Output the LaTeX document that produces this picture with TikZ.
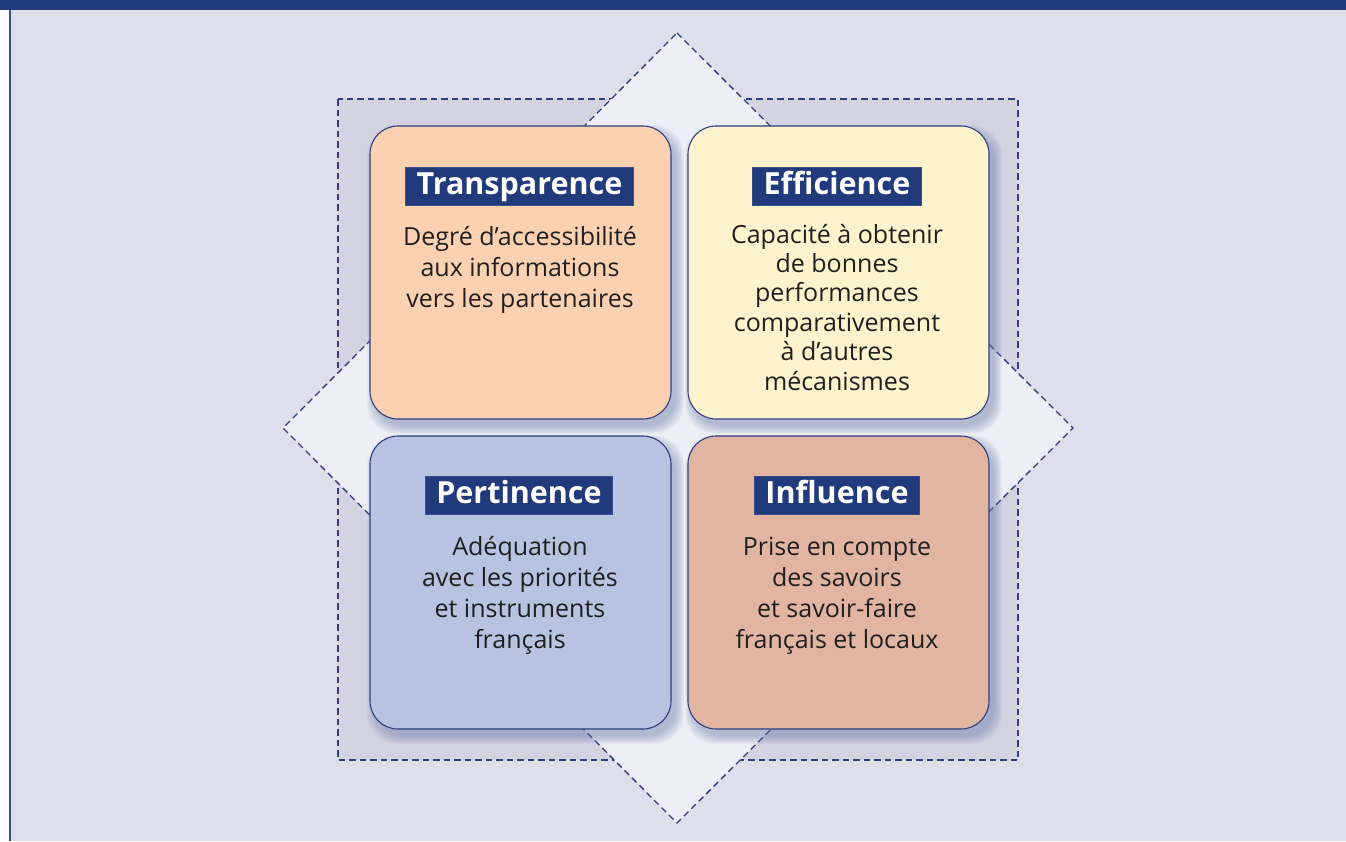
\documentclass[tikz,border=0pt]{standalone}
\usepackage{fontspec}
\setmainfont{Open Sans}
\definecolor{navy}{HTML}{213A7C}
\definecolor{bgc}{HTML}{DFDFEB}
\definecolor{sqc}{HTML}{D3D3E2}
\definecolor{diac}{HTML}{EEEFF6}
\definecolor{dashc}{HTML}{2E3F7F}
\definecolor{edgec}{HTML}{3A4E8C}
\definecolor{shc}{HTML}{6A78A8}
\definecolor{txtc}{HTML}{1F1F1F}
\definecolor{peach}{HTML}{FCD1B1}
\definecolor{cream}{HTML}{FEF3CC}
\definecolor{lblue}{HTML}{B8C2E1}
\definecolor{rose}{HTML}{E1B5A2}
\begin{document}
\begin{tikzpicture}[x=1pt,y=-1pt,
  dashline/.style={draw=dashc, line width=1.3pt, dash pattern=on 6.5pt off 4pt},
  card/.style={draw=dashc, line width=1.1pt, rounded corners=28pt, minimum width=301pt, minimum height=293pt, inner sep=0pt},
  cardshadow/.style={fill=shc, opacity=0.06, rounded corners=30pt, inner sep=0pt},
  titlebox/.style={fill=navy, text=white, font=\fontsize{30.5}{32}\bfseries\selectfont, inner xsep=11pt, inner ysep=4pt, text height=23pt, text depth=7pt, draw=edgec, line width=0.6pt},
  body/.style={text=txtc, align=center, anchor=base, inner sep=0pt}]
\useasboundingbox (0,0) rectangle (1346,841);
% background
\fill[bgc] (9,0) rectangle (1346,841);
\fill[white] (0,0) rectangle (9,841);
\fill[navy] (0,0) rectangle (1346,10);
\draw[edgec, line width=1.5pt] (9.75,10) -- (9.75,841);
% dashed square and diamond
\path[fill=sqc, dashline] (338,99) rectangle (1018,760);
\coordinate (dt) at (677,33);
\coordinate (dr) at (1073,428);
\coordinate (db) at (677,823);
\coordinate (dl) at (283,428);
\path[fill=diac, dashline] (dt) -- (dr) -- (db) -- (dl) -- cycle;
% shadows
\foreach \cx/\cy in {520.5/272.5, 838.5/272.5, 520.5/582.5, 838.5/582.5}{
  \foreach \i in {0,2,...,16}{
    \node[cardshadow, minimum width=301pt+\i pt, minimum height=293pt+\i pt] at (\cx+5,\cy+7) {};
  }
}
% cards
\node[card, fill=peach] (tl) at (520.5,272.5) {};
\node[card, fill=cream] (tr) at (838.5,272.5) {};
\node[card, fill=lblue] (bl) at (520.5,582.5) {};
\node[card, fill=rose]  (br) at (838.5,582.5) {};
% titles
\node[titlebox] (t1) at (519.5,186) {Transparence};
\node[titlebox] (t2) at (837,186) {Efficience};
\node[titlebox] (t3) at (519,495.5) {Pertinence};
\node[titlebox] (t4) at (837,495.5) {Influence};
% bodies (anchor = baseline of the last line)
\node[body, font=\fontsize{25}{31}\selectfont] (b1) at (520,307) {Degré d’accessibilité\\aux informations\\vers les partenaires};
\node[body, font=\fontsize{25}{29.4}\selectfont] (b2) at (837,390) {Capacité à obtenir\\de bonnes\\performances\\comparativement\\à d’autres\\mécanismes};
\node[body, font=\fontsize{25}{31}\selectfont] (b3) at (520,648) {Adéquation\\avec les priorités\\et instruments\\français};
\node[body, font=\fontsize{25}{31}\selectfont] (b4) at (837,648) {Prise en compte\\des savoirs\\et savoir-faire\\français et locaux};
\end{tikzpicture}
\end{document}
